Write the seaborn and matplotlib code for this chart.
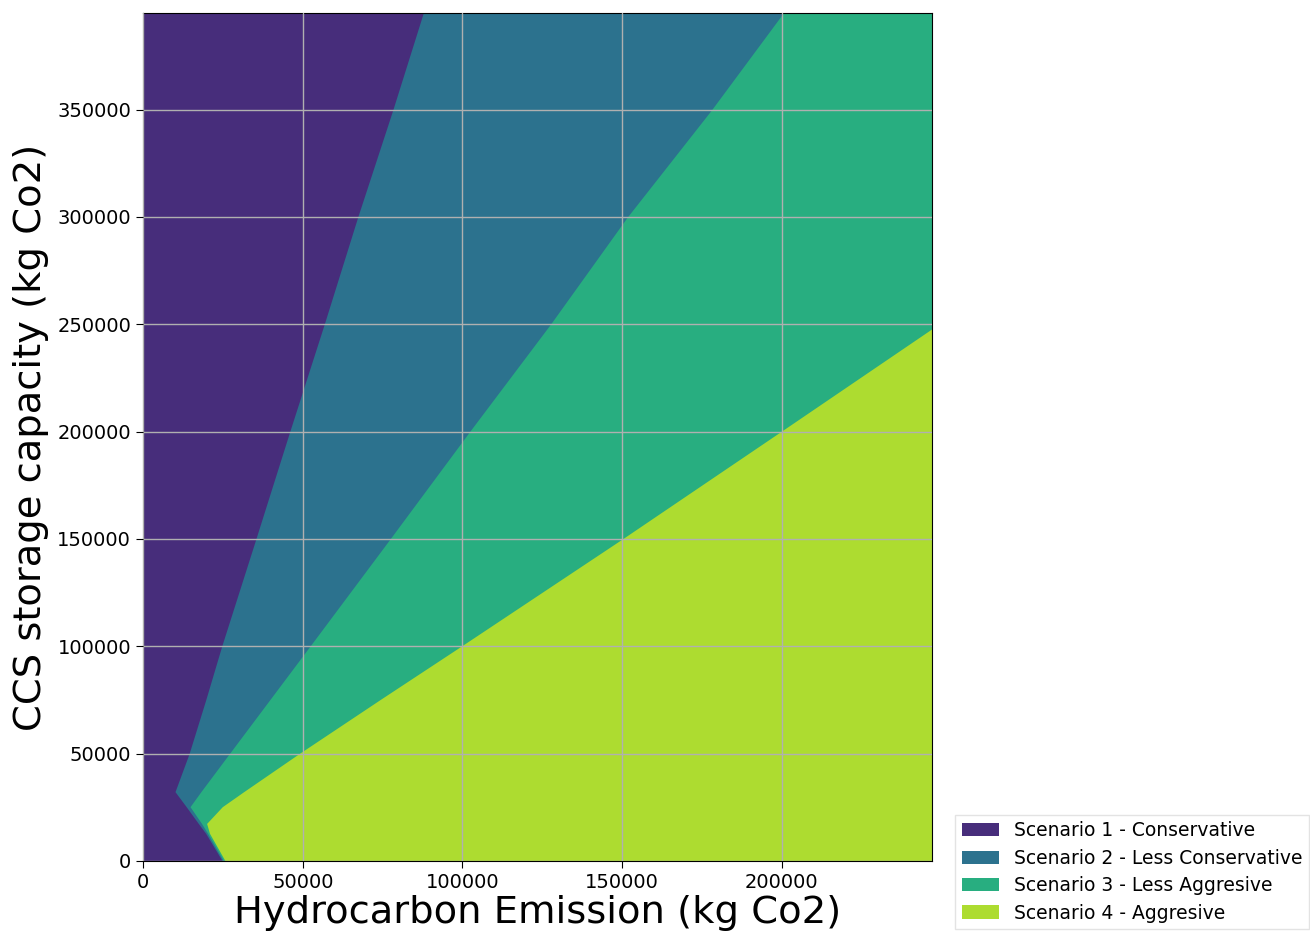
import numpy as np
import matplotlib
matplotlib.use("Agg")
import matplotlib.pyplot as plt
import seaborn as sns

ccs_levels = [0, 12900, 17500, 25300, 32300, 50000, 75000, 100000,
              150000, 200000, 250000, 300000, 350000, 395000]

# right edge of each scenario region (hydrocarbon emission, kg Co2)
edge_s1 = [24800, 19600, 17300, 13500, 10000, 14400, 19600, 24600,
           35300, 45900, 56700, 67200, 78200, 87700]
edge_s2 = [25200, 20200, 18300, 14700, 18100, 27000, 39600, 52200,
           77300, 102200, 127500, 151600, 178000, 200400]
edge_s3 = [25700, 20800, 19900, 24800, 31500, 48800, 74000, 99500,
           150000, 199600, 249000, 300000, 350000, 395000]

emission_max = 247000
ccs_max = 395000

scenarios = ["Scenario 1 - Conservative",
             "Scenario 2 - Less Conservative",
             "Scenario 3 - Less Aggresive",
             "Scenario 4 - Aggresive"]

sns.set_style("ticks")
plt.rcParams["font.family"] = ["DejaVu Sans"]
plt.rcParams["text.color"] = "black"
plt.rcParams["axes.labelcolor"] = "black"
plt.rcParams["xtick.color"] = "black"
plt.rcParams["ytick.color"] = "black"

cmap = sns.color_palette("viridis", as_cmap=True)
colors = [cmap((i + 0.5) / 4) for i in range(4)]

fig = plt.figure(figsize=(13.1, 9.31), dpi=100)
ax = fig.add_axes([0.1092, 0.0752, 0.6023, 0.9108])

y = np.array(ccs_levels)
starts = [np.zeros(len(y)), np.array(edge_s1), np.array(edge_s2), np.array(edge_s3)]
# each region is filled up to the right border; later ones cover the seam
for start, col, lab in zip(starts, colors, scenarios):
    ax.fill_betweenx(y, start, emission_max, color=col, linewidth=0, label=lab)

ax.set_xlim(0, emission_max)
ax.set_ylim(0, ccs_max)
ax.set_xticks([0, 50000, 100000, 150000, 200000])
ax.set_yticks([0, 50000, 100000, 150000, 200000, 250000, 300000, 350000])
ax.tick_params(labelsize=14, color="black", length=5)
ax.set_axisbelow(False)
ax.grid(True, color="#b0b0b0", linewidth=1)
for s in ax.spines.values():
    s.set_color("black")

ax.set_xlabel("Hydrocarbon Emission (kg Co2)", fontsize=27.7, labelpad=2)
ax.set_ylabel("CCS storage capacity (kg Co2)", fontsize=27.7, labelpad=6)

fig.legend(loc="lower right", bbox_to_anchor=(0.9994, 0.002), borderaxespad=0,
           fontsize=13.5, frameon=True, fancybox=False, edgecolor="#dddddd",
           labelspacing=0.45, borderpad=0.35)

fig.savefig("out.png", dpi=100)
